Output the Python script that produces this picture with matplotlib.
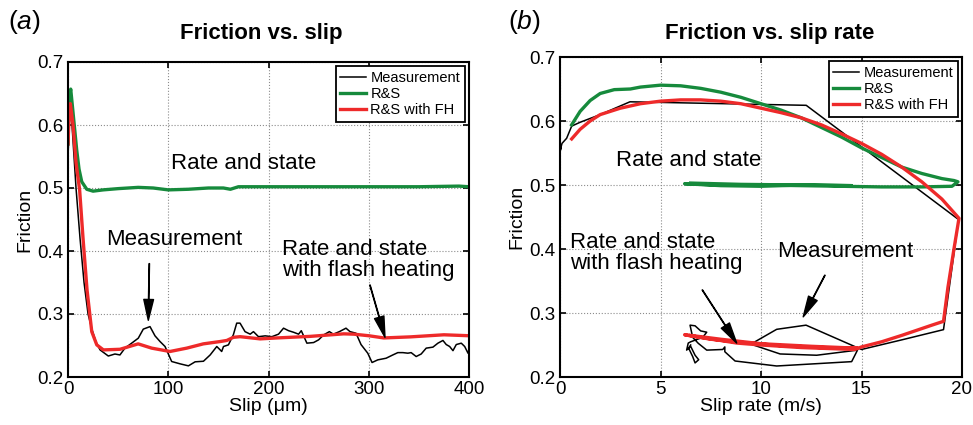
import matplotlib
matplotlib.use("Agg")
import matplotlib.pyplot as plt

plt.rcParams['font.family'] = ['Liberation Sans', 'DejaVu Sans']
plt.rcParams['mathtext.fontset'] = 'custom'
plt.rcParams['mathtext.rm'] = 'Liberation Sans'
plt.rcParams['mathtext.it'] = 'Liberation Sans:italic'

GREEN = '#168a3c'
RED = '#ee2a2a'

# ---- panel (a): friction vs slip (um)
slip_meas = [0, 0.5, 2, 4, 8, 12, 16, 20, 24, 28, 32, 40.2, 46.8, 51.8, 56.8, 63.5, 70.1, 75.1,
             81.8, 86.8, 91.8, 96.8, 103.4, 111.8, 120.1, 126.8, 135.1, 141.8, 148.4, 151.8,
             153.3, 155.1, 160, 164.9, 168.3, 171.6, 176.6, 181.7, 185, 190, 196.7, 203.4, 210,
             215, 220, 225, 230, 232.7, 238.3, 245, 250, 255, 260.7, 264.7, 270.7, 277.3, 281.3,
             287.3, 292.3, 299, 303.3, 309, 317.3, 324, 329, 334, 339, 342.3, 347.3, 352.3,
             357.3, 364, 369, 374, 377.3, 380.7, 384, 387.3, 392.3, 395.7, 399, 400]
fric_meas = [0.55, 0.57, 0.63, 0.6, 0.5, 0.42, 0.35, 0.3, 0.275, 0.255, 0.243, 0.2333, 0.2365,
             0.235, 0.2458, 0.2537, 0.2616, 0.276, 0.28, 0.2653, 0.2563, 0.2484, 0.2246, 0.2209,
             0.2177, 0.2241, 0.225, 0.235, 0.2484, 0.243, 0.2405, 0.2484, 0.251, 0.2668, 0.2855,
             0.2855, 0.272, 0.268, 0.272, 0.264, 0.2653, 0.264, 0.268, 0.2775, 0.2735, 0.271,
             0.268, 0.2735, 0.2537, 0.2547, 0.259, 0.2668, 0.272, 0.268, 0.272, 0.2775, 0.272,
             0.2695, 0.2515, 0.2378, 0.223, 0.2272, 0.2298, 0.235, 0.2387, 0.2387, 0.2378,
             0.2387, 0.2325, 0.2365, 0.2458, 0.2474, 0.2537, 0.258, 0.2515, 0.2484, 0.2418,
             0.2515, 0.2537, 0.2484, 0.2378, 0.244]

slip_rs = [0, 1, 2.7, 5, 8.7, 11, 13.7, 18.7, 25, 35, 50, 70, 85, 100, 120, 140, 155, 162, 170,
           200, 250, 300, 350, 390, 400]
fric_rs = [0.57, 0.64, 0.657, 0.62, 0.56, 0.53, 0.51, 0.498, 0.495, 0.497, 0.499, 0.501, 0.5,
           0.497, 0.498, 0.5, 0.5, 0.498, 0.502, 0.502, 0.502, 0.502, 0.502, 0.503, 0.502]

slip_fh = [0, 1, 2.3, 5, 8, 11.6, 15, 19, 23.7, 28.7, 35.3, 51.9, 70, 83.5, 101.7, 118.4, 135,
           151.8, 158.4, 165, 171.7, 191.7, 208.3, 241.7, 275, 285, 300, 315, 341.7, 375, 400]
fric_fh = [0.57, 0.61, 0.634, 0.6, 0.54, 0.497, 0.42, 0.338, 0.272, 0.251, 0.243, 0.244, 0.2526,
           0.2458, 0.2405, 0.2458, 0.2526, 0.2563, 0.258, 0.263, 0.264, 0.2605, 0.262, 0.2645,
           0.2685, 0.268, 0.2655, 0.262, 0.2637, 0.267, 0.2655]

# ---- panel (b): friction vs slip rate (m/s)
rate_meas = [0, 0.05, 0.0, 0.1, 0.33, 0.58, 1.0, 2.0, 3.48, 12.25, 19.83, 19.08, 17, 15, 12.24,
             10.78, 9.62, 9.62, 10.95, 12.77, 14.8, 14.51, 10.78, 8.71, 8.2, 8.2, 8.1, 7.3,
             6.88, 6.6, 6.47, 6.72, 7.0, 7.3, 7.1, 6.5, 6.38, 6.3, 6.5, 6.72, 6.9, 6.72, 6.6,
             6.4, 6.5]
fric_meas_b = [0.55, 0.56, 0.553, 0.565, 0.573, 0.592, 0.598, 0.61, 0.63, 0.6245, 0.446, 0.274,
               0.258, 0.243, 0.281, 0.2745, 0.2536, 0.25, 0.236, 0.234, 0.242, 0.224, 0.2172,
               0.225, 0.2395, 0.247, 0.243, 0.242, 0.2526, 0.262, 0.281, 0.28, 0.272, 0.27,
               0.262, 0.255, 0.253, 0.242, 0.248, 0.234, 0.227, 0.222, 0.232, 0.245, 0.25]

rate_rs = [0.58, 1, 1.5, 2, 2.7, 3.5, 4, 5, 6, 7, 8, 9, 10, 11, 12, 13, 14, 15, 16, 17, 18, 19,
           19.6, 19.8, 19.5, 18, 16, 14, 12, 10, 8, 6.2, 8, 10, 12, 14.5, 12, 9, 6.5]
fric_rs_b = [0.594, 0.615, 0.632, 0.643, 0.649, 0.65, 0.653, 0.656, 0.655, 0.651, 0.645, 0.637,
             0.627, 0.617, 0.605, 0.59, 0.575, 0.558, 0.543, 0.528, 0.518, 0.51, 0.507, 0.505,
             0.498, 0.497, 0.497, 0.498, 0.499, 0.5, 0.5, 0.502, 0.499, 0.498, 0.5, 0.499, 0.5,
             0.501, 0.503]

rate_fh = [0.58, 1, 1.5, 2, 3, 4, 5, 6, 7, 8, 9, 10, 11, 12, 13, 14, 15, 16, 17, 18, 19, 19.85,
           19.6, 19.3, 19.08, 18.5, 17, 16, 15, 14.67, 12, 10, 8.8, 8, 7, 6.2, 7.5, 9, 11, 13,
           14.8, 12.5, 10, 8, 6.5]
fric_fh_b = [0.572, 0.587, 0.6, 0.61, 0.62, 0.627, 0.631, 0.633, 0.633, 0.631, 0.627, 0.62,
             0.613, 0.605, 0.594, 0.58, 0.565, 0.548, 0.528, 0.505, 0.478, 0.448, 0.4, 0.34,
             0.287, 0.281, 0.265, 0.255, 0.247, 0.243, 0.246, 0.25, 0.253, 0.257, 0.262, 0.266,
             0.259, 0.254, 0.249, 0.246, 0.245, 0.248, 0.252, 0.259, 0.265]

yticks = [0.2, 0.3, 0.4, 0.5, 0.6, 0.7]

fig = plt.figure(figsize=(9.73, 4.25), dpi=100)
W, H = 973, 425


def make_axes(x0, x1, ytop, ybot):
    ax = fig.add_axes([x0 / W, 1 - ybot / H, (x1 - x0) / W, (ybot - ytop) / H])
    ax.grid(True, linestyle=':', color='0.55', lw=0.8)
    ax.tick_params(direction='in', top=True, right=True, labelsize=13.5, length=4, width=1.2,
                   pad=3)
    for s in ax.spines.values():
        s.set_linewidth(1.5)
    ax.set_ylim(0.2, 0.7)
    ax.set_yticks(yticks)
    ax.set_yticklabels([f"{t:.1f}" for t in yticks])
    ax.set_ylabel('Friction', fontsize=14, labelpad=3)
    return ax


arrow = dict(facecolor='k', edgecolor='k', width=0.3, headwidth=7, headlength=15, shrink=0)
txt = dict(fontsize=16, va='center', ha='left')

# panel (a)
ax1 = make_axes(68, 469, 62, 377)
ax1.plot(slip_meas, fric_meas, color='k', lw=1.1, label='Measurement')
ax1.plot(slip_rs, fric_rs, color=GREEN, lw=2.4, label='R&S')
ax1.plot(slip_fh, fric_fh, color=RED, lw=2.4, label='R&S with FH')
ax1.set_xlim(0, 400)
ax1.set_xticks([0, 100, 200, 300, 400])
ax1.set_xlabel('Slip (μm)', fontsize=14, labelpad=0)
ax1.text(103, 0.539, 'Rate and state', **txt)
ax1.text(38, 0.4175, 'Measurement', **txt)
ax1.text(213, 0.386, 'Rate and state\nwith flash heating', linespacing=1.0, **txt)
ax1.annotate('', xy=(80.1, 0.29), xytext=(81.1, 0.38), arrowprops=arrow)
ax1.annotate('', xy=(316.2, 0.263), xytext=(301.2, 0.346), arrowprops=arrow)

# panel (b)
ax2 = make_axes(560, 962, 57, 377)
ax2.plot(rate_meas, fric_meas_b, color='k', lw=1.1, label='Measurement')
ax2.plot(rate_rs, fric_rs_b, color=GREEN, lw=2.4, label='R&S')
ax2.plot(rate_fh, fric_fh_b, color=RED, lw=2.4, label='R&S with FH')
ax2.set_xlim(0, 20)
ax2.set_xticks([0, 5, 10, 15, 20])
ax2.set_xlabel('Slip rate (m/s)', fontsize=14, labelpad=0)
ax2.text(2.8, 0.539, 'Rate and state', **txt)
ax2.text(10.8, 0.396, 'Measurement', **txt)
ax2.text(0.5, 0.393, 'Rate and state\nwith flash heating', linespacing=1.0, **txt)
ax2.annotate('', xy=(8.79, 0.253), xytext=(7.08, 0.336), arrowprops=arrow)
ax2.annotate('', xy=(12.1, 0.294), xytext=(13.18, 0.359), arrowprops=arrow)

for ax in (ax1, ax2):
    leg = ax.legend(loc='upper right', fontsize=10.5, fancybox=False, framealpha=1,
                    edgecolor='k', borderpad=0.3, handlelength=1.8, handletextpad=0.3,
                    labelspacing=0.15, borderaxespad=0.3)
    leg.get_frame().set_linewidth(1.3)

fig.text(261 / W, 1 - 33 / H, 'Friction vs. slip', fontsize=16, fontweight='bold',
         ha='center', va='center')
fig.text(770 / W, 1 - 33 / H, 'Friction vs. slip rate', fontsize=16, fontweight='bold',
         ha='center', va='center')
fig.text(24 / W, 1 - 22 / H, r'($\mathit{a}$)', fontsize=19, ha='center', va='center')
fig.text(524 / W, 1 - 22 / H, r'($\mathit{b}$)', fontsize=19, ha='center', va='center')

fig.savefig('out.png', dpi=100)
